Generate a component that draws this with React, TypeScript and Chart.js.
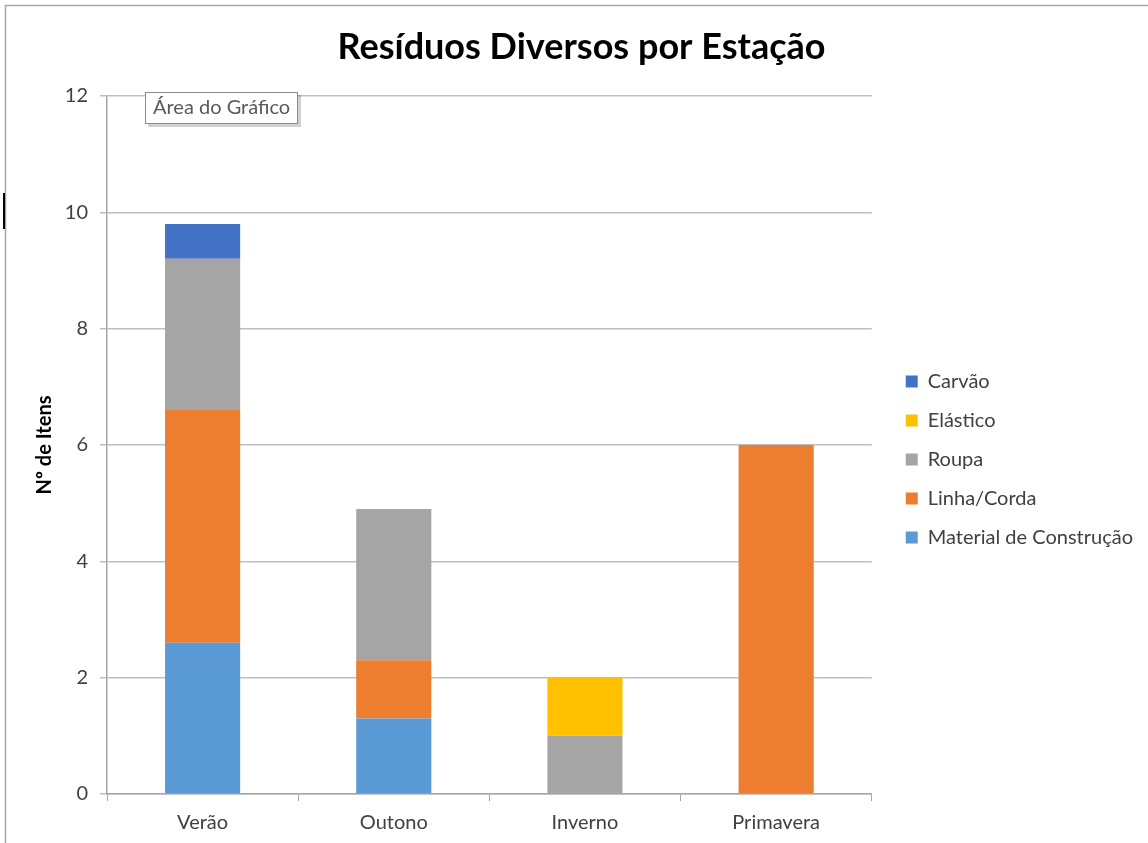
import React, { useEffect, useRef } from "react";
import { Chart, registerables } from "chart.js";

Chart.register(...registerables);

const categories = ["Verão", "Outono", "Inverno", "Primavera"];
const materialConstrucao = [2.6, 1.3, 0, 0];
const linhaCorda = [4.0, 1.0, 0, 6];
const roupa = [2.6, 2.6, 1, 0];
const elastico = [0, 0, 1, 0];
const carvao = [0.6, 0, 0, 0];
const yTicks = [0, 2, 4, 6, 8, 10, 12];

const FONT = "Lato, 'Open Sans', sans-serif";

const overlayPlugin = {
  id: "overlay",
  afterDraw(chart: any) {
    const ctx = chart.ctx as CanvasRenderingContext2D;
    ctx.save();
    // frame border
    ctx.strokeStyle = "#a6a6a6";
    ctx.lineWidth = 1.5;
    ctx.beginPath();
    ctx.moveTo(5.5, 843);
    ctx.lineTo(5.5, 5.5);
    ctx.lineTo(1148, 5.5);
    ctx.stroke();
    // cursor mark
    ctx.strokeStyle = "#000";
    ctx.lineWidth = 2;
    ctx.beginPath();
    ctx.moveTo(4, 193);
    ctx.lineTo(4, 229);
    ctx.stroke();
    // tooltip-like label
    ctx.fillStyle = "rgba(0,0,0,0.18)";
    ctx.fillRect(148, 95, 153, 32);
    ctx.fillStyle = "#ffffff";
    ctx.fillRect(145, 92, 153, 32);
    ctx.strokeStyle = "#8c8c8c";
    ctx.lineWidth = 1;
    ctx.strokeRect(145.5, 92.5, 152, 31);
    ctx.fillStyle = "#595959";
    ctx.font = `20px ${FONT}`;
    ctx.textBaseline = "middle";
    ctx.textAlign = "left";
    ctx.fillText("Área do Gráfico", 153, 108);
    ctx.restore();
  },
};

export default function App() {
  const ref = useRef<HTMLCanvasElement | null>(null);

  useEffect(() => {
    document.body.style.margin = "0";
    const canvas = ref.current;
    if (!canvas) return;
    const chart = new Chart(canvas, {
      type: "bar",
      data: {
        labels: categories,
        datasets: [
          { label: "Material de Construção", data: materialConstrucao, backgroundColor: "#5B9BD5" },
          { label: "Linha/Corda", data: linhaCorda, backgroundColor: "#ED7D31" },
          { label: "Roupa", data: roupa, backgroundColor: "#A5A5A5" },
          { label: "Elástico", data: elastico, backgroundColor: "#FFC000" },
          { label: "Carvão", data: carvao, backgroundColor: "#4472C4" },
        ],
      },
      options: {
        responsive: false,
        animation: false,
        maintainAspectRatio: false,
        layout: { padding: { left: 20, right: 5, top: 0, bottom: 0 } },
        datasets: {
          bar: { categoryPercentage: 0.393, barPercentage: 1, borderWidth: 0 },
        },
        plugins: {
          tooltip: { enabled: false },
          title: {
            display: true,
            text: "Resíduos Diversos por Estação",
            color: "#000",
            font: { family: FONT, size: 36, weight: "bold", lineHeight: 1.2 },
            padding: { top: 25.4, bottom: 27.4 },
          },
          legend: {
            position: "right",
            reverse: true,
            title: {
              display: true,
              text: "",
              font: { family: FONT, size: 12, lineHeight: 1.2 },
              padding: { top: 61.6, bottom: 0 },
            },
            labels: {
              color: "#404040",
              font: { family: FONT, size: 20 },
              boxWidth: 12,
              boxHeight: 12,
              padding: 19,
            },
          },
        },
        scales: {
          x: {
            stacked: true,
            grid: { display: true, drawOnChartArea: false, drawTicks: true, tickLength: 7, color: "#a6a6a6" },
            border: { display: true, color: "#a6a6a6", width: 1.5 },
            ticks: { color: "#404040", font: { family: FONT, size: 20 }, padding: 10 },
            afterFit: (s: any) => {
              s.height = 49;
            },
          },
          y: {
            stacked: true,
            min: 0,
            max: 12,
            afterBuildTicks: (s: any) => {
              s.ticks = yTicks.map((v) => ({ value: v }));
            },
            grid: { color: "#bfbfbf", lineWidth: 1.5, tickLength: 7 },
            border: { display: true, color: "#a6a6a6", width: 1.5 },
            ticks: { color: "#404040", font: { family: FONT, size: 20 }, padding: 12 },
            title: {
              display: true,
              text: "Nº de Itens",
              color: "#000",
              font: { family: FONT, size: 20, weight: "bold" },
              padding: { top: 13, bottom: 0 },
            },
            afterFit: (s: any) => {
              s.width = 87;
            },
          },
          yRight: {
            type: "linear",
            position: "right",
            display: false,
            afterFit: (s: any) => {
              s.width = 15;
            },
          },
        },
      },
      plugins: [overlayPlugin],
    } as any);
    return () => chart.destroy();
  }, []);

  return (
    <div style={{ position: "fixed", left: 0, top: 0, width: 1148, height: 843, background: "#fff" }}>
      <canvas ref={ref} width={1148} height={843} style={{ display: "block" }} />
    </div>
  );
}
